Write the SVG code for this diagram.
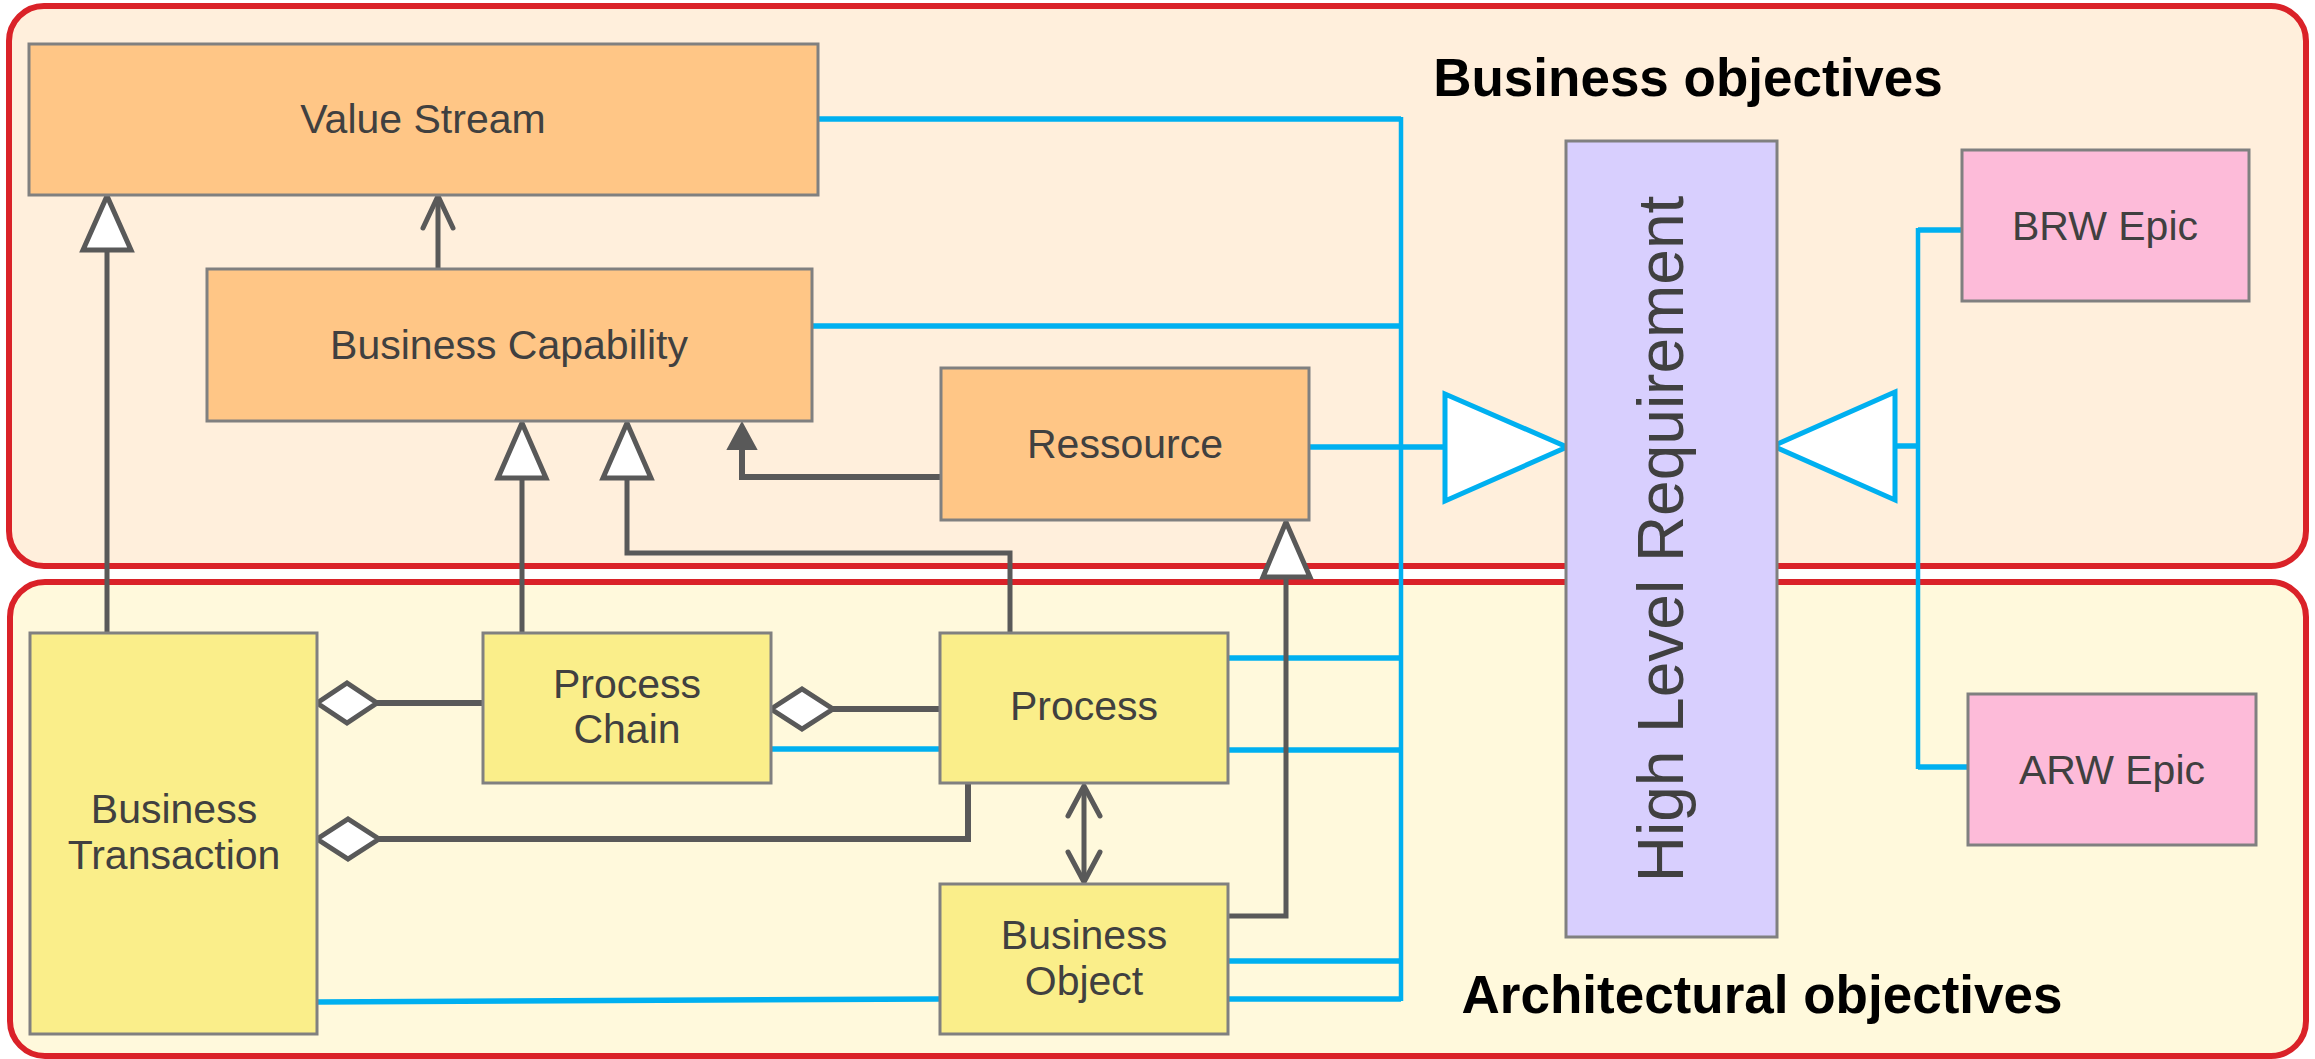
<svg xmlns="http://www.w3.org/2000/svg" width="2315" height="1059" viewBox="0 0 2315 1059">
<style>
.zone{stroke:#DA2228;stroke-width:6}
.box{stroke:#808080;stroke-width:3}
.orange{fill:#FFC686}
.yellow{fill:#FAEE8A}
.pink{fill:#FDBBD9}
.lav{fill:#D8CFFE}
.lbl{font-family:"Liberation Sans",Arial,sans-serif;font-size:41px;fill:#404040;text-anchor:middle}
.title{font-family:"Liberation Sans",Arial,sans-serif;font-size:53px;font-weight:bold;fill:#000;text-anchor:middle}
.g{fill:none;stroke:#595959;stroke-width:5}
.gw{fill:none;stroke:#595959;stroke-width:6}
.gt{fill:#fff;stroke:#595959;stroke-width:5;stroke-linejoin:miter}
.gf{fill:#595959;stroke:#595959;stroke-width:2}
.ga{fill:none;stroke:#595959;stroke-width:5;stroke-linecap:round;stroke-linejoin:round}
.b{fill:none;stroke:#00B0F0;stroke-width:5.5}
.bv{fill:none;stroke:#00B0F0;stroke-width:4.5}
.bt{fill:#fff;stroke:#00B0F0;stroke-width:5}
</style>

<g id="zone-business">
<rect class="zone" x="9" y="6" width="2297" height="560" rx="35" fill="#FFEFDC"/>
</g>
<g id="zone-architectural">
<rect class="zone" x="10" y="582" width="2296" height="474" rx="35" fill="#FFF9DC"/>
</g>

<g id="connectors">
<!-- blue links -->
<polyline class="b" points="818,119 1401,119"/>
<polyline class="b" points="812,326 1401,326"/>
<polyline class="b" points="1309,447 1445,447"/>
<polyline class="b" points="1228,658 1401,658"/>
<polyline class="b" points="1228,750 1401,750"/>
<polyline class="b" points="1228,961 1401,961"/>
<polyline class="b" points="1228,999 1401,999"/>
<polyline class="b" points="771,749 940,749"/>
<polyline class="b" points="317,1002 940,999"/>
<polyline class="bv" points="1401,117 1401,1001"/>
<polygon class="bt" points="1445,394 1567,447 1445,501"/>
<polyline class="b" points="1962,230 1918,230"/>
<polyline class="b" points="1968,767 1918,767"/>
<polyline class="bv" points="1918,228 1918,769"/>
<polyline class="b" points="1918,446 1895,446"/>
<polygon class="bt" points="1895,392 1773,446 1895,500"/>

<!-- Business Transaction -> Value Stream -->
<polyline class="g" points="107,633 107,250"/>
<polygon class="gt" points="107,196 83,250 131,250"/>
<!-- Business Capability -> Value Stream -->
<polyline class="g" points="438,269 438,198"/>
<polyline class="ga" points="423,228 438,196 453,228"/>
<!-- Process Chain -> Business Capability -->
<polyline class="g" points="522,633 522,478"/>
<polygon class="gt" points="522,423 498,478 546,478"/>
<!-- Process -> Business Capability -->
<polyline class="g" points="1010,633 1010,553 627,553 627,478"/>
<polygon class="gt" points="627,423 603,478 651,478"/>
<!-- Ressource -> Business Capability -->
<polyline class="gw" points="941,477 742,477 742,449"/>
<polygon class="gf" points="742,423 728,449 756,449"/>
<!-- Business Object -> Ressource -->
<polyline class="g" points="1228,916 1286,916 1286,577"/>
<polygon class="gt" points="1286,522 1263,577 1310,577"/>
<!-- Process Chain -> Business Transaction (aggregation) -->
<polyline class="gw" points="377,703 483,703"/>
<polygon class="gt" points="317,703 347,683 377,703 347,723"/>
<!-- Process -> Process Chain (aggregation) -->
<polyline class="gw" points="833,709 940,709"/>
<polygon class="gt" points="771,709 802,689 833,709 802,729"/>
<!-- Process -> Business Transaction (aggregation) -->
<polyline class="gw" points="379,839 968,839 968,783"/>
<polygon class="gt" points="317,839 348,819 379,839 348,859"/>
<!-- Process <-> Business Object -->
<polyline class="g" points="1084,788 1084,880"/>
<polyline class="ga" points="1068,816 1084,786 1100,816"/>
<polyline class="ga" points="1068,852 1084,882 1100,852"/>
</g>

<g id="value-stream">
<rect class="box orange" x="29" y="44" width="789" height="151"/>
<text class="lbl" x="423" y="133">Value Stream</text>
</g>
<g id="business-capability">
<rect class="box orange" x="207" y="269" width="605" height="152"/>
<text class="lbl" x="509" y="359">Business Capability</text>
</g>
<g id="ressource">
<rect class="box orange" x="941" y="368" width="368" height="152"/>
<text class="lbl" x="1125" y="458">Ressource</text>
</g>
<g id="high-level-requirement">
<rect class="box lav" x="1566" y="141" width="211" height="796"/>
<text class="lbl" x="0" y="0" style="font-size:64px" transform="translate(1683,539) rotate(-90)">High Level Requirement</text>
</g>
<g id="brw-epic">
<rect class="box pink" x="1962" y="150" width="287" height="151"/>
<text class="lbl" x="2105" y="240">BRW Epic</text>
</g>
<g id="arw-epic">
<rect class="box pink" x="1968" y="694" width="288" height="151"/>
<text class="lbl" x="2112" y="784">ARW Epic</text>
</g>
<g id="business-transaction">
<rect class="box yellow" x="30" y="633" width="287" height="401"/>
<text class="lbl" x="174" y="823">Business</text>
<text class="lbl" x="174" y="869">Transaction</text>
</g>
<g id="process-chain">
<rect class="box yellow" x="483" y="633" width="288" height="150"/>
<text class="lbl" x="627" y="698">Process</text>
<text class="lbl" x="627" y="743">Chain</text>
</g>
<g id="process">
<rect class="box yellow" x="940" y="633" width="288" height="150"/>
<text class="lbl" x="1084" y="720">Process</text>
</g>
<g id="business-object">
<rect class="box yellow" x="940" y="884" width="288" height="150"/>
<text class="lbl" x="1084" y="949">Business</text>
<text class="lbl" x="1084" y="995">Object</text>
</g>

<g id="labels">
<text class="title" x="1688" y="96">Business objectives</text>
<text class="title" x="1762" y="1013">Architectural objectives</text>
</g>
</svg>
